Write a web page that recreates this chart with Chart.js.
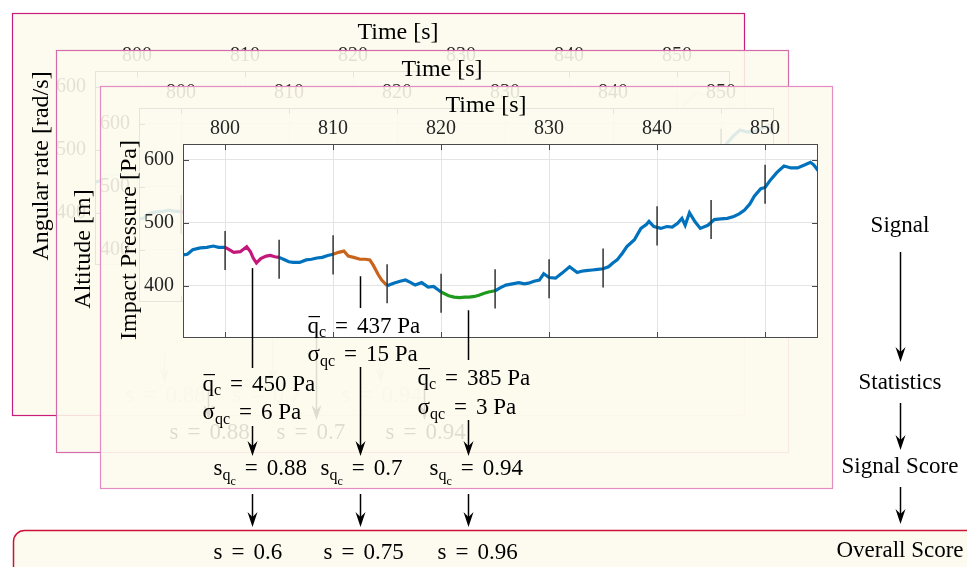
<!DOCTYPE html>
<html>
<head>
<meta charset="utf-8">
<script src="https://cdn.jsdelivr.net/npm/chart.js@4/dist/chart.umd.min.js"></script>
<style>
html, body { margin: 0; padding: 0; background: #fff; }
#wrap { position: relative; width: 967px; height: 567px; overflow: hidden; }
#wrap canvas { position: absolute; left: 0; top: 0; }
</style>
</head>
<body>
<div id="wrap">
  <canvas id="panel2" width="967" height="567"></canvas>
  <canvas id="panel1" width="967" height="567"></canvas>
  <canvas id="panel0" width="967" height="567"></canvas>
</div>
<script>
// impact pressure signal
const times = [796.1, 796.5, 797.0, 797.7, 798.3, 798.9, 799.4, 800.0, 800.3, 800.8, 801.4, 802.0, 802.35, 802.6, 802.9, 803.3, 803.8, 804.2, 804.6, 805.0,
  805.4, 805.9, 806.3, 806.9, 807.5, 808.0, 808.5, 809.0, 809.5, 810.0, 810.5, 811.0, 811.4, 811.9, 812.5, 813.0, 813.4, 813.7, 814.2, 814.5, 815.0,
  815.6, 816.2, 816.7, 817.2, 817.6, 818.2, 818.8, 819.3, 820.0, 820.7, 821.2, 821.7, 822.2, 822.6, 823.1, 823.5, 824.0, 824.4, 825.0,
  825.5, 826.0, 826.6, 827.2, 827.7, 828.1, 828.6, 829.1, 829.5, 830.0, 830.6, 831.2, 831.9, 832.6, 833.0, 833.4, 834.0, 834.5, 835.0,
  835.5, 835.9, 836.3, 836.8, 837.2, 837.9, 838.5, 839.0, 839.25, 839.7, 840.35, 840.9, 841.4, 841.9, 842.3, 842.6, 843.0, 843.5, 844.0,
  844.7, 845.3, 845.9, 846.5, 847.1, 847.6, 848.1, 848.6, 849.0, 849.6, 850.0, 850.5, 851.1, 851.75, 852.4, 853.0, 853.7, 854.2, 854.5, 854.9];
const pressure = [449, 450, 457, 460, 461, 463, 461, 461, 458, 453, 454, 462, 454, 444, 436, 443, 447, 448, 446, 445,
  442, 438, 437, 437, 441, 442, 444, 445, 448, 450, 453, 455, 447, 445, 442, 442, 441, 433, 417, 409, 400,
  404, 407, 409, 405, 401, 405, 398, 399, 390, 384, 382, 381, 382, 382, 383, 385, 388, 390, 392,
  397, 401, 403, 405, 403, 404, 407, 409, 419, 413, 412, 420, 430, 421, 423, 424, 425, 426, 427,
  430, 436, 441, 452, 462, 473, 491, 497, 502, 494, 491, 494, 493, 499, 507, 496, 516, 502, 491,
  496, 505, 506, 507, 510, 514, 520, 530, 542, 554, 556, 568, 580, 590, 587, 587, 592, 596, 592, 583];

const xTicks = [800, 810, 820, 830, 840, 850];
const yTicks = [400, 500, 600];

// window boundary markers
const markerTimes = [800, 805, 810, 815, 820, 825, 830, 835, 840, 845, 850];
const markerCenters = [456, 442, 449, 403, 388, 395, 411, 428, 495, 505, 561];
const markerHalf = 31;

// highlighted windows
const windowStarts = [800, 810, 820];
const windowEnds = [805, 815, 825];
const windowColors = ['#c4177b', '#c8641c', '#1e9a1e'];

// statistics of the highlighted windows
const statTimes = [802.5, 812.5, 822.5];
const statLineTops = [428, 415, 361];
const meanPressure = [450, 437, 385];
const stdPressure = [6, 15, 3];
const signalScores = [0.88, 0.7, 0.94];
const overallScores = [0.6, 0.75, 0.96];

const yTitles = ['Impact Pressure [Pa]', 'Altitude [m]', 'Angular rate [rad/s]'];
const stageLabels = ['Signal', 'Statistics', 'Signal Score', 'Overall Score'];

const SERIF = '"Liberation Serif", "Times New Roman", serif';
const lineBlue = '#0072bd';

const panels = [
  { dx: 0, dy: 0, border: '#e38cc2', ylab: [130, 240] },
  { dx: -44, dy: -36, border: '#d46ba9', ylab: [84, 249] },
  { dx: -88, dy: -73, border: '#c81d79', ylab: [42, 166] }
];

const signalData = times.map((t, i) => ({ x: t, y: pressure[i] }));
const markerData = [];
markerTimes.forEach((t, i) => {
  markerData.push({ x: t, y: markerCenters[i] - markerHalf }, { x: t, y: markerCenters[i] + markerHalf }, { x: t, y: null });
});

function segColor(ctx) {
  const a = ctx.p0.parsed.x, b = ctx.p1.parsed.x;
  for (let i = 0; i < windowStarts.length; i++) {
    if (a >= windowStarts[i] && b <= windowEnds[i]) return windowColors[i];
  }
  return undefined;
}

function drawRuns(c, x, yc, runs) {
  const base = yc + 8;
  let cx = x;
  c.fillStyle = '#000';
  c.textAlign = 'left';
  c.textBaseline = 'alphabetic';
  for (const r of runs) {
    cx += r.gap || 0;
    c.font = r.size + 'px ' + SERIF;
    c.fillText(r.t, cx, base + (r.dy || 0));
    const w = c.measureText(r.t).width;
    if (r.over) c.fillRect(cx + 1, base - 17, w, 1.2);
    cx += w + (r.after || 0);
  }
}
const eq = { t: '=', size: 23, gap: 9, after: 9 };
const qbarRuns = v => [{ t: 'q', size: 23, over: true }, { t: 'c', size: 16, dy: 4 }, eq, { t: v + ' Pa', size: 23 }];
const sigmaRuns = v => [{ t: 'σ', size: 23 }, { t: 'qc', size: 16, dy: 5 }, eq, { t: v + ' Pa', size: 23 }];
const sqcRuns = v => [{ t: 's', size: 23 }, { t: 'q', size: 16, dy: 5 }, { t: 'c', size: 12, dy: 10 }, eq, { t: String(v), size: 23 }];
const sRuns = v => [{ t: 's', size: 23 }, eq, { t: String(v), size: 23 }];

function line(c, x, y0, y1) {
  c.beginPath(); c.moveTo(x, y0); c.lineTo(x, y1); c.stroke();
}
function arrow(c, x, y0, y1) {
  c.lineWidth = 1.5; c.strokeStyle = '#000'; c.fillStyle = '#000';
  line(c, x, y0, y1 - 8);
  c.beginPath();
  c.moveTo(x, y1); c.lineTo(x - 5, y1 - 15); c.lineTo(x, y1 - 10); c.lineTo(x + 5, y1 - 15);
  c.closePath(); c.fill();
}

// layout of the annotation column (main panel coordinates)
const statX = { stats: [-50, -53, -51], sqc: [-39, -40, -39], s: [-39, -37, -31] };
const statY = { qbar: [383, 325, 377], sigma: [411, 353, 406], segEnd: [368, 308, 360], arrowTop: [426, 367, 420] };

function panelPlugin(k) {
  const p = panels[k];
  return {
    id: 'panel' + k,
    beforeDraw(chart) {
      const c = chart.ctx, a = chart.chartArea;
      c.save();
      c.fillStyle = 'rgba(253,250,237,0.88)';
      c.fillRect(100 + p.dx, 86 + p.dy, 732, 402);
      c.strokeStyle = p.border; c.lineWidth = 1.2;
      c.strokeRect(100.5 + p.dx, 86.5 + p.dy, 732, 402);
      c.fillStyle = '#fff';
      c.fillRect(a.left, a.top, a.right - a.left, a.bottom - a.top);
      c.restore();
    },
    afterDraw(chart) {
      const c = chart.ctx, a = chart.chartArea;
      const xs = chart.scales.x, ys = chart.scales.y;
      c.save();
      // box and inward ticks
      c.strokeStyle = '#4a4a4a'; c.lineWidth = 1;
      c.strokeRect(a.left + 0.5, a.top + 0.5, a.right - a.left - 1, a.bottom - a.top - 1);
      xTicks.forEach(t => {
        const x = Math.round(xs.getPixelForValue(t)) + 0.5;
        line(c, x, a.top, a.top + 6); line(c, x, a.bottom - 6, a.bottom);
      });
      yTicks.forEach(v => {
        const y = Math.round(ys.getPixelForValue(v)) + 0.5;
        c.beginPath(); c.moveTo(a.left, y); c.lineTo(a.left + 6, y);
        c.moveTo(a.right - 6, y); c.lineTo(a.right, y); c.stroke();
      });
      // titles
      c.fillStyle = '#000';
      c.font = '24px ' + SERIF;
      c.textAlign = 'center'; c.textBaseline = 'middle';
      c.fillText('Time [s]', 486 + p.dx, 106 + p.dy);
      c.save();
      c.translate(p.ylab[0], p.ylab[1]); c.rotate(-Math.PI / 2);
      c.fillText(yTitles[k], 0, 0);
      c.restore();
      // statistics columns
      statTimes.forEach((t, i) => {
        const x = Math.round(xs.getPixelForValue(t)) + 0.5;
        c.strokeStyle = '#000'; c.lineWidth = 1.5;
        line(c, x, ys.getPixelForValue(statLineTops[i]), statY.segEnd[i] + p.dy);
        arrow(c, x, statY.arrowTop[i] + p.dy, 456 + p.dy);
        if (k === 0) {
          drawRuns(c, x + statX.stats[i], statY.qbar[i], qbarRuns(meanPressure[i]));
          drawRuns(c, x + statX.stats[i], statY.sigma[i], sigmaRuns(stdPressure[i]));
          drawRuns(c, x + statX.sqc[i], 467, sqcRuns(signalScores[i]));
          arrow(c, x, 494, 527);
        } else {
          drawRuns(c, x + statX.sqc[i], 467 + p.dy, sRuns(signalScores[i]));
        }
      });
      if (k === 0) {
        // overall score box
        c.beginPath();
        c.roundRect(13.5, 530.5, 1000, 60, 11);
        c.fillStyle = '#fdfbef'; c.fill();
        c.strokeStyle = '#cf1037'; c.lineWidth = 1.5; c.stroke();
        statTimes.forEach((t, i) => {
          const x = Math.round(xs.getPixelForValue(t)) + 0.5;
          drawRuns(c, x + statX.s[i], 551, sRuns(overallScores[i]));
        });
        // stage labels
        c.fillStyle = '#000';
        c.font = '23px ' + SERIF;
        c.textAlign = 'center'; c.textBaseline = 'middle';
        const ly = [226, 383, 467, 551];
        stageLabels.forEach((s, i) => c.fillText(s, 900, ly[i]));
        arrow(c, 900.5, 252, 362);
        arrow(c, 900.5, 403, 450);
        arrow(c, 900.5, 487, 524);
      }
      c.restore();
    }
  };
}

function makeChart(id, k) {
  const p = panels[k];
  return new Chart(document.getElementById(id), {
    type: 'line',
    data: {
      datasets: [
        { data: markerData, borderColor: '#333', borderWidth: 1.5, pointRadius: 0, spanGaps: false },
        { data: signalData, borderColor: lineBlue, borderWidth: 3.2, pointRadius: 0, segment: { borderColor: segColor } }
      ]
    },
    options: {
      responsive: false,
      animation: false,
      devicePixelRatio: 1,
      events: [],
      layout: { padding: { left: 133 + p.dx, right: 149 - p.dx, top: 104 + p.dy, bottom: 229 - p.dy } },
      plugins: { legend: { display: false }, tooltip: { enabled: false } },
      scales: {
        x: {
          type: 'linear', position: 'top', min: 796.1, max: 854.9,
          afterBuildTicks: s => { s.ticks = xTicks.map(v => ({ value: v })); },
          afterFit: s => { s.height = 40; },
          grid: { color: '#e4e4e4', drawTicks: false },
          border: { display: false },
          ticks: { padding: 3, color: '#262626', maxRotation: 0, font: { family: SERIF, size: 20 } }
        },
        y: {
          type: 'linear', min: 317, max: 625,
          afterBuildTicks: s => { s.ticks = yTicks.map(v => ({ value: v })); },
          afterFit: s => { s.width = 50; },
          grid: { color: '#e4e4e4', drawTicks: false },
          border: { display: false },
          ticks: { padding: 9, color: '#262626', font: { family: SERIF, size: 20 } }
        }
      }
    },
    plugins: [panelPlugin(k)]
  });
}

makeChart('panel2', 2);
makeChart('panel1', 1);
makeChart('panel0', 0);
</script>
</body>
</html>
